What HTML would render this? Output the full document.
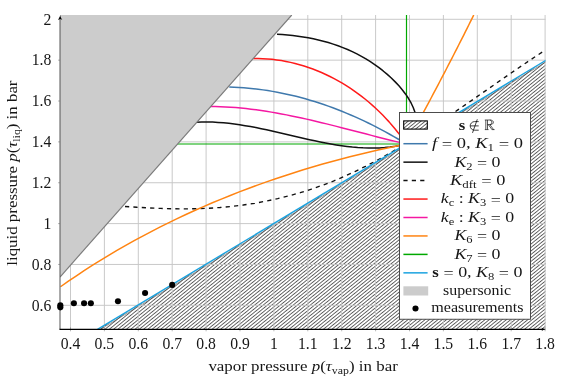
<!DOCTYPE html>
<html><head><meta charset="utf-8"><title>plot</title>
<style>
html,body{margin:0;padding:0;background:#fff;}
body{position:relative;width:561px;height:380px;overflow:hidden;font-family:"Liberation Serif",serif;}
svg{display:block;position:absolute;left:0;top:0}
.ov{will-change:transform}
text{font-family:"Liberation Serif",serif;fill:#161616}
.it{font-style:italic}
</style></head><body>
<svg width="561" height="380" viewBox="0 0 561 380">
<defs>
<pattern id="hatch" patternUnits="userSpaceOnUse" width="2.70" height="8" patternTransform="rotate(50.9)">
<rect x="0" y="0" width="0.72" height="8" fill="#303030"/>
</pattern>
<clipPath id="clip"><rect x="60.0" y="15.0" width="485.5" height="314.3"/></clipPath>
</defs>
<rect width="561" height="380" fill="#fff"/>

<g clip-path="url(#clip)">
<polygon points="97.5,329.30 547.2,59.5 546.50,329.30" fill="url(#hatch)"/>
<polyline points="97.5,329.30 547.2,59.5" fill="none" stroke="#555" stroke-width="0.6" transform="translate(0.9,1.2)"/>
</g>
<path d="M70.50,15.0 V329.3 M104.40,15.0 V329.3 M138.30,15.0 V329.3 M172.20,15.0 V329.3 M206.10,15.0 V329.3 M240.00,15.0 V329.3 M273.90,15.0 V329.3 M307.80,15.0 V329.3 M341.70,15.0 V329.3 M375.60,15.0 V329.3 M409.50,15.0 V329.3 M443.40,15.0 V329.3 M477.30,15.0 V329.3 M511.20,15.0 V329.3 M545.10,15.0 V329.3 M60.0,305.32 H545.5 M60.0,264.46 H545.5 M60.0,223.60 H545.5 M60.0,182.74 H545.5 M60.0,141.88 H545.5 M60.0,101.02 H545.5 M60.0,60.16 H545.5 M60.0,19.30 H545.5" stroke="#c6c6c6" stroke-width="0.95" fill="none"/>
<path d="M70.50,327.3 V331.3 M104.40,327.3 V331.3 M138.30,327.3 V331.3 M172.20,327.3 V331.3 M206.10,327.3 V331.3 M240.00,327.3 V331.3 M273.90,327.3 V331.3 M307.80,327.3 V331.3 M341.70,327.3 V331.3 M375.60,327.3 V331.3 M409.50,327.3 V331.3 M443.40,327.3 V331.3 M477.30,327.3 V331.3 M511.20,327.3 V331.3 M545.10,327.3 V331.3 M58.0,305.32 H62.0 M58.0,264.46 H62.0 M58.0,223.60 H62.0 M58.0,182.74 H62.0 M58.0,141.88 H62.0 M58.0,101.02 H62.0 M58.0,60.16 H62.0 M58.0,19.30 H62.0" stroke="#888" stroke-width="0.6" fill="none"/>
<g clip-path="url(#clip)" fill="none" stroke-width="1.5" stroke-linecap="butt" stroke-linejoin="round">
<path d="M177,144.0 H406.3 M406.5,15.0 V144" stroke="#00a800" stroke-width="1.2"/>
<path d="M229.25,87.10 L234.10,87.26 L238.95,87.50 L243.78,87.82 L248.60,88.22 L253.41,88.70 L258.20,89.25 L262.99,89.88 L267.75,90.59 L272.51,91.37 L277.25,92.23 L281.97,93.15 L286.68,94.15 L291.38,95.22 L296.06,96.35 L300.72,97.56 L305.36,98.83 L309.98,100.16 L314.59,101.57 L319.18,103.03 L323.75,104.56 L328.30,106.14 L332.83,107.79 L337.34,109.50 L341.82,111.27 L346.29,113.09 L350.73,114.97 L355.16,116.90 L359.56,118.89 L363.93,120.93 L368.28,123.02 L372.61,125.16 L376.91,127.36 L381.19,129.60 L385.44,131.88 L389.67,134.22 L393.87,136.60 L398.04,139.02 L402.18,141.49 L406.30,144.00" stroke="#3f79ad"/>
<path d="M277.00,34.30 L282.28,34.62 L287.53,35.04 L292.75,35.57 L297.94,36.21 L303.10,36.97 L308.22,37.84 L313.31,38.84 L318.35,39.96 L323.35,41.21 L328.30,42.59 L333.20,44.11 L338.05,45.78 L342.85,47.58 L347.59,49.54 L352.27,51.64 L356.89,53.90 L361.45,56.33 L365.93,58.91 L370.35,61.66 L374.70,64.59 L378.98,67.68 L383.17,70.96 L387.29,74.42 L391.31,78.06 L395.21,81.87 L398.93,85.84 L402.42,89.95 L405.64,94.18 L408.55,98.53 L411.08,102.98 L413.21,107.52 L414.87,112.12 L416.02,116.77 L416.55,121.45 L416.36,126.12 L415.35,130.74 L413.41,135.28 L410.43,139.71 L406.30,144.00" stroke="#111"/>
<path d="M196.25,122.20 L201.71,122.01 L207.16,121.98 L212.61,122.11 L218.04,122.39 L223.47,122.81 L228.88,123.35 L234.29,124.01 L239.69,124.78 L245.09,125.64 L250.48,126.59 L255.86,127.61 L261.24,128.69 L266.61,129.83 L271.98,131.02 L277.34,132.23 L282.71,133.48 L288.07,134.73 L293.42,135.99 L298.78,137.24 L304.13,138.47 L309.49,139.67 L314.84,140.83 L320.19,141.95 L325.55,143.01 L330.91,143.99 L336.26,144.90 L341.62,145.72 L346.99,146.43 L352.35,147.03 L357.72,147.51 L363.10,147.84 L368.47,148.02 L373.86,148.04 L379.25,147.89 L384.64,147.54 L390.05,146.99 L395.46,146.22 L400.87,145.23 L406.30,144.00" stroke="#111"/>
<path d="M125.00,206.50 L136.94,207.28 L148.87,207.93 L160.79,208.44 L172.68,208.76 L184.54,208.86 L196.37,208.71 L208.16,208.27 L219.90,207.52 L231.59,206.43 L243.22,205.01 L254.78,203.24 L266.28,201.12 L277.69,198.66 L289.02,195.85 L300.26,192.68 L311.40,189.16 L322.44,185.28 L333.37,181.05 L344.19,176.46 L354.90,171.54 L365.51,166.33 L376.03,160.84 L386.45,155.10 L396.78,149.14 L407.03,143.00 L417.19,136.69 L427.29,130.26 L437.31,123.71 L447.27,117.07 L457.17,110.36 L467.01,103.62 L476.79,96.85 L486.54,90.08 L496.23,83.33 L505.90,76.63 L515.52,70.00 L525.12,63.46 L534.69,57.04 L544.25,50.75" stroke="#111" stroke-width="1.35" stroke-dasharray="4.2,4.2"/>
<path d="M253.25,58.50 L257.99,58.49 L262.71,58.63 L267.41,58.92 L272.09,59.34 L276.74,59.90 L281.37,60.59 L285.96,61.42 L290.53,62.38 L295.07,63.46 L299.57,64.68 L304.03,66.01 L308.46,67.47 L312.85,69.05 L317.19,70.74 L321.49,72.54 L325.75,74.46 L329.95,76.49 L334.11,78.62 L338.21,80.86 L342.26,83.21 L346.26,85.65 L350.19,88.19 L354.07,90.82 L357.88,93.55 L361.63,96.37 L365.32,99.27 L368.93,102.26 L372.48,105.34 L375.95,108.49 L379.35,111.73 L382.68,115.04 L385.92,118.43 L389.09,121.88 L392.17,125.41 L395.17,129.00 L398.09,132.66 L400.92,136.38 L403.65,140.16 L406.30,144.00" stroke="#ff1a1a"/>
<path d="M210.00,106.50 L215.17,106.56 L220.34,106.71 L225.49,106.94 L230.63,107.24 L235.75,107.62 L240.87,108.07 L245.98,108.60 L251.07,109.18 L256.16,109.83 L261.23,110.54 L266.30,111.31 L271.36,112.13 L276.41,113.00 L281.46,113.92 L286.50,114.88 L291.53,115.89 L296.55,116.94 L301.57,118.02 L306.58,119.14 L311.59,120.29 L316.59,121.46 L321.59,122.66 L326.58,123.88 L331.57,125.12 L336.56,126.38 L341.55,127.65 L346.53,128.93 L351.51,130.22 L356.49,131.51 L361.47,132.80 L366.45,134.09 L371.43,135.38 L376.40,136.66 L381.38,137.92 L386.36,139.18 L391.34,140.41 L396.33,141.63 L401.31,142.83 L406.30,144.00" stroke="#f418a2"/>
<path d="M60.50,286.75 L68.43,281.21 L76.43,275.79 L84.49,270.46 L92.62,265.24 L100.81,260.12 L109.07,255.11 L117.38,250.20 L125.76,245.39 L134.19,240.68 L142.68,236.08 L151.22,231.57 L159.81,227.16 L168.46,222.86 L177.15,218.65 L185.89,214.54 L194.68,210.53 L203.52,206.61 L212.40,202.80 L221.32,199.07 L230.28,195.45 L239.28,191.92 L248.32,188.48 L257.40,185.14 L266.51,181.89 L275.65,178.73 L284.82,175.67 L294.03,172.69 L303.26,169.81 L312.52,167.02 L321.81,164.32 L331.12,161.71 L340.46,159.19 L349.81,156.76 L359.19,154.42 L368.58,152.16 L377.99,149.99 L387.41,147.91 L396.85,145.91 L406.30,144.00" stroke="#ff8412"/>
<path d="M406.30,144.00 L408.09,140.72 L409.88,137.45 L411.66,134.17 L413.44,130.89 L415.22,127.60 L417.00,124.32 L418.77,121.04 L420.54,117.75 L422.31,114.46 L424.08,111.17 L425.84,107.88 L427.60,104.59 L429.35,101.30 L431.11,98.00 L432.86,94.71 L434.60,91.41 L436.35,88.11 L438.09,84.80 L439.82,81.50 L441.56,78.20 L443.29,74.89 L445.01,71.58 L446.74,68.27 L448.45,64.95 L450.17,61.64 L451.88,58.32 L453.59,55.00 L455.29,51.68 L456.99,48.36 L458.69,45.03 L460.38,41.70 L462.06,38.37 L463.75,35.04 L465.43,31.71 L467.10,28.37 L468.77,25.03 L470.43,21.69 L472.09,18.35 L473.75,15.00" stroke="#ff8412"/>
<path d="M97.5,329.30 L547.2,59.5" stroke="#1ba3e0" stroke-width="1.4"/>
<polygon points="60.0,15.0 291.75,15.0 60.0,277" fill="#cccccc" stroke="none"/>
<path d="M291.75,15.0 L60.0,277" stroke="#7a7a7a" stroke-width="1.15" fill="none"/>
</g>
<path d="M60.0,329.3 V17.0" stroke="#555" stroke-width="1.0" fill="none"/>
<path d="M59.5,329.40000000000003 H544.5" stroke="#000" stroke-width="1.2" fill="none"/>
<path d="M60.15,15.0 C60.5,17.0 61.3,18.6 62.3,19.7 L60.15,18.9 L58.0,19.7 C59.0,18.6 59.8,17.0 60.15,15.0 Z" fill="#000"/>
<path d="M546.0,329.3 C544.0,329.65000000000003 542.6,330.3 541.6,331.2 L542.3,329.3 L541.6,327.40000000000003 C542.6,328.3 544.0,328.95 546.0,329.3 Z" fill="#000"/>
<circle cx="60.33" cy="305.32" r="3.05" fill="#000" stroke="none"/>
<circle cx="60.33" cy="307.36" r="3.05" fill="#000" stroke="none"/>
<circle cx="73.89" cy="303.28" r="3.05" fill="#000" stroke="none"/>
<circle cx="84.06" cy="303.28" r="3.05" fill="#000" stroke="none"/>
<circle cx="90.84" cy="303.28" r="3.05" fill="#000" stroke="none"/>
<circle cx="117.96" cy="301.23" r="3.05" fill="#000" stroke="none"/>
<circle cx="145.08" cy="293.06" r="3.05" fill="#000" stroke="none"/>
<circle cx="172.20" cy="284.89" r="3.05" fill="#000" stroke="none"/>
<rect x="399.5" y="112.5" width="131.0" height="206.75" fill="#fff" stroke="#444" stroke-width="0.95"/>
<rect x="403.7" y="120.9" width="23.600000000000044" height="8.2" fill="url(#hatch)" stroke="#000" stroke-width="1.1"/>
<path d="M403.4,143.70 H427.6" stroke="#3f79ad" stroke-width="1.5" fill="none"/>
<path d="M403.4,162.15 H427.6" stroke="#111" stroke-width="1.5" fill="none"/>
<path d="M403.4,180.60 H427.6" stroke="#111" stroke-width="1.5" stroke-dasharray="4.2,4.2" fill="none"/>
<path d="M403.4,199.05 H427.6" stroke="#ff1a1a" stroke-width="1.5" fill="none"/>
<path d="M403.4,217.50 H427.6" stroke="#f418a2" stroke-width="1.5" fill="none"/>
<path d="M403.4,235.95 H427.6" stroke="#ff8412" stroke-width="1.5" fill="none"/>
<path d="M403.4,254.40 H427.6" stroke="#00a800" stroke-width="1.5" fill="none"/>
<path d="M403.4,272.85 H427.6" stroke="#1ba3e0" stroke-width="1.5" fill="none"/>
<rect x="403.4" y="286.30" width="24.800000000000047" height="9.2" fill="#cccccc"/>
<circle cx="415.5" cy="308.50" r="3.05" fill="#000"/>
<path d="M478.7,121.60000000000001 H474.5 A4.3,4.3 0 0 0 474.5,130.20000000000002 H478.7 M470.3,125.9 H478.7 M477.3,119.30000000000001 L472.5,132.9" stroke="#000" stroke-width="0.75" fill="none"/>
<path d="M484.8,120.0 H489.8 C492.40000000000003,120.0 493.40000000000003,121.19999999999999 493.40000000000003,122.3 C493.40000000000003,123.6 492.2,124.6 489.8,124.6 H487.5 M489.8,120.0 C491.40000000000003,120.3 491.8,121.39999999999999 491.8,122.3 C491.8,123.39999999999999 491.2,124.3 489.8,124.6 M485.8,120.0 V129.6 M487.5,120.0 V129.6 M484.8,129.6 H488.6 M488.3,124.6 L492.0,129.6 M489.90000000000003,124.6 L493.6,129.6 M491.8,129.6 H494.6" stroke="#000" stroke-width="0.65" fill="none"/>
</svg>
<svg class="ov" width="561" height="380" viewBox="0 0 561 380">
<text x="70.50" y="348.6" font-size="15.7" text-anchor="middle">0.4</text>
<text x="104.40" y="348.6" font-size="15.7" text-anchor="middle">0.5</text>
<text x="138.30" y="348.6" font-size="15.7" text-anchor="middle">0.6</text>
<text x="172.20" y="348.6" font-size="15.7" text-anchor="middle">0.7</text>
<text x="206.10" y="348.6" font-size="15.7" text-anchor="middle">0.8</text>
<text x="240.00" y="348.6" font-size="15.7" text-anchor="middle">0.9</text>
<text x="273.90" y="348.6" font-size="15.7" text-anchor="middle">1</text>
<text x="307.80" y="348.6" font-size="15.7" text-anchor="middle">1.1</text>
<text x="341.70" y="348.6" font-size="15.7" text-anchor="middle">1.2</text>
<text x="375.60" y="348.6" font-size="15.7" text-anchor="middle">1.3</text>
<text x="409.50" y="348.6" font-size="15.7" text-anchor="middle">1.4</text>
<text x="443.40" y="348.6" font-size="15.7" text-anchor="middle">1.5</text>
<text x="477.30" y="348.6" font-size="15.7" text-anchor="middle">1.6</text>
<text x="511.20" y="348.6" font-size="15.7" text-anchor="middle">1.7</text>
<text x="545.10" y="348.6" font-size="15.7" text-anchor="middle">1.8</text>
<text x="51.3" y="310.52" font-size="15.7" text-anchor="end">0.6</text>
<text x="51.3" y="269.66" font-size="15.7" text-anchor="end">0.8</text>
<text x="51.3" y="228.80" font-size="15.7" text-anchor="end">1</text>
<text x="51.3" y="187.94" font-size="15.7" text-anchor="end">1.2</text>
<text x="51.3" y="147.08" font-size="15.7" text-anchor="end">1.4</text>
<text x="51.3" y="106.22" font-size="15.7" text-anchor="end">1.6</text>
<text x="51.3" y="65.36" font-size="15.7" text-anchor="end">1.8</text>
<text x="51.3" y="24.50" font-size="15.7" text-anchor="end">2</text>
<text x="303.1" y="371" font-size="15" text-anchor="middle" textLength="189.4" lengthAdjust="spacingAndGlyphs"><tspan>vapor pressure </tspan><tspan class="it">p</tspan><tspan>(</tspan><tspan class="it">τ</tspan><tspan font-size="10.5" dy="3">vap</tspan><tspan dy="-3">) in bar</tspan></text>
<text transform="translate(17.4,173.1) rotate(-90)" font-size="15" text-anchor="middle" textLength="185.2" lengthAdjust="spacingAndGlyphs"><tspan>liquid pressure </tspan><tspan class="it">p</tspan><tspan>(</tspan><tspan class="it">τ</tspan><tspan font-size="10.5" dy="3">liq</tspan><tspan dy="-3">) in bar</tspan></text>
<text x="477.45" y="148.10" font-size="15" text-anchor="middle" textLength="91.10" lengthAdjust="spacingAndGlyphs"><tspan class="it">f</tspan><tspan>  </tspan><tspan dy="1.1">=</tspan><tspan dy="-1.1"> 0, </tspan><tspan class="it">K</tspan><tspan font-size="10.5" dy="3">1</tspan><tspan dy="-3"> </tspan><tspan dy="1.1">=</tspan><tspan dy="-1.1"> 0</tspan></text>
<text x="477.45" y="166.55" font-size="15" text-anchor="middle" textLength="46.10" lengthAdjust="spacingAndGlyphs"><tspan class="it">K</tspan><tspan font-size="10.5" dy="3">2</tspan><tspan dy="-3"> </tspan><tspan dy="1.1">=</tspan><tspan dy="-1.1"> 0</tspan></text>
<text x="477.75" y="185.00" font-size="15" text-anchor="middle" textLength="55.30" lengthAdjust="spacingAndGlyphs"><tspan class="it">K</tspan><tspan font-size="10.5" dy="3">dft</tspan><tspan dy="-3"> </tspan><tspan dy="1.1">=</tspan><tspan dy="-1.1"> 0</tspan></text>
<text x="477.45" y="203.45" font-size="15" text-anchor="middle" textLength="73.50" lengthAdjust="spacingAndGlyphs"><tspan class="it">k</tspan><tspan font-size="10.5" dy="3">c</tspan><tspan dy="-3"> : </tspan><tspan class="it">K</tspan><tspan font-size="10.5" dy="3">3</tspan><tspan dy="-3"> </tspan><tspan dy="1.1">=</tspan><tspan dy="-1.1"> 0</tspan></text>
<text x="477.45" y="221.90" font-size="15" text-anchor="middle" textLength="73.50" lengthAdjust="spacingAndGlyphs"><tspan class="it">k</tspan><tspan font-size="10.5" dy="3">e</tspan><tspan dy="-3"> : </tspan><tspan class="it">K</tspan><tspan font-size="10.5" dy="3">3</tspan><tspan dy="-3"> </tspan><tspan dy="1.1">=</tspan><tspan dy="-1.1"> 0</tspan></text>
<text x="477.45" y="240.35" font-size="15" text-anchor="middle" textLength="46.10" lengthAdjust="spacingAndGlyphs"><tspan class="it">K</tspan><tspan font-size="10.5" dy="3">6</tspan><tspan dy="-3"> </tspan><tspan dy="1.1">=</tspan><tspan dy="-1.1"> 0</tspan></text>
<text x="477.45" y="258.80" font-size="15" text-anchor="middle" textLength="46.10" lengthAdjust="spacingAndGlyphs"><tspan class="it">K</tspan><tspan font-size="10.5" dy="3">7</tspan><tspan dy="-3"> </tspan><tspan dy="1.1">=</tspan><tspan dy="-1.1"> 0</tspan></text>
<text x="483.00" y="277.25" font-size="15" text-anchor="middle" textLength="79.00" lengthAdjust="spacingAndGlyphs"><tspan dy="1.1">=</tspan><tspan dy="-1.1"> 0, </tspan><tspan class="it">K</tspan><tspan font-size="10.5" dy="3">8</tspan><tspan dy="-3"> </tspan><tspan dy="1.1">=</tspan><tspan dy="-1.1"> 0</tspan></text>
<text x="477.00" y="294.80" font-size="15" text-anchor="middle" textLength="68.00" lengthAdjust="spacingAndGlyphs"><tspan>supersonic</tspan></text>
<text x="477.38" y="312.40" font-size="15" text-anchor="middle" textLength="92.25" lengthAdjust="spacingAndGlyphs"><tspan>measurements</tspan></text>
<text x="458.7" y="129.50" font-size="14.4" font-weight="bold" text-anchor="start" textLength="6.5" lengthAdjust="spacingAndGlyphs">s</text>
<text x="432.2" y="277.25" font-size="14.4" font-weight="bold" text-anchor="start" textLength="6.5" lengthAdjust="spacingAndGlyphs">s</text>
</svg>
</body></html>
